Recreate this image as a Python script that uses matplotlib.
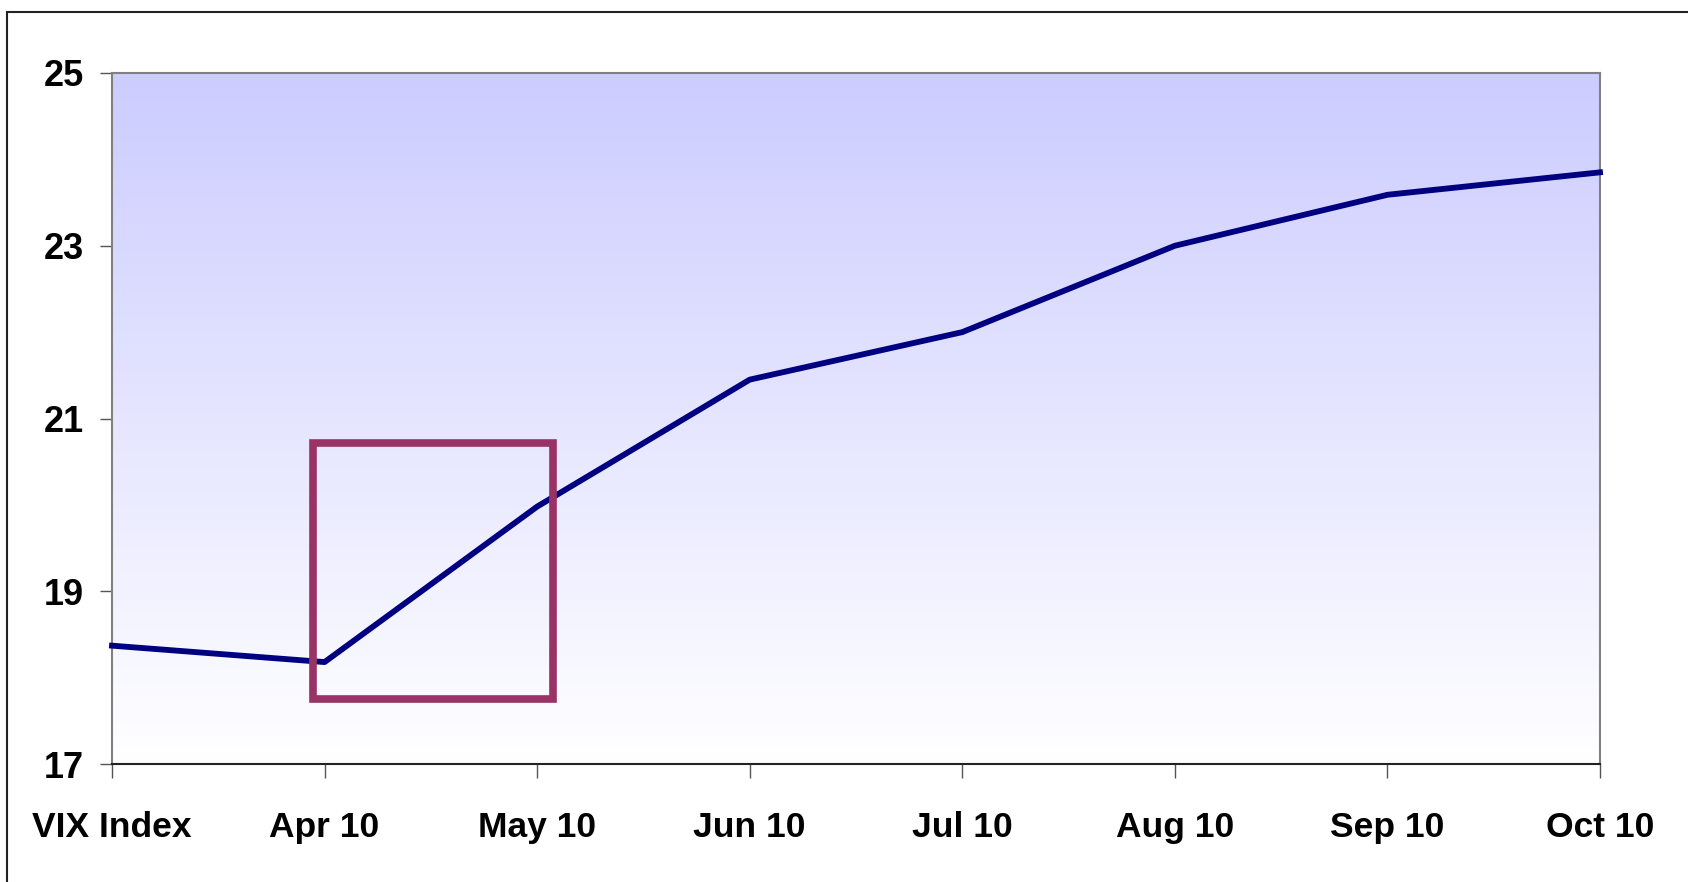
import numpy as np
import matplotlib.pyplot as plt
from matplotlib.patches import Rectangle
from matplotlib.colors import LinearSegmentedColormap

# VIX futures curve
labels = ['VIX Index', 'Apr 10', 'May 10', 'Jun 10', 'Jul 10', 'Aug 10', 'Sep 10', 'Oct 10']
values = [18.37, 18.18, 19.98, 21.45, 22.0, 23.0, 23.59, 23.85]
y_ticks = [17, 19, 21, 23, 25]

# highlight box around the front months (data coords)
box_x = [0.945, 2.074]
box_y = [17.755, 20.72]

plt.rcParams['font.family'] = ['Liberation Sans', 'DejaVu Sans']

W, H = 1688, 882
fig = plt.figure(figsize=(W / 100, H / 100), dpi=100)
ax = fig.add_axes([112 / W, 1 - 764 / H, (1600 - 112) / W, (764 - 73) / H])

# gradient background, lavender on top fading to white
cmap = LinearSegmentedColormap.from_list('bg', ['#ffffff', '#ccccff'])
grad = np.linspace(0, 1, 256).reshape(-1, 1)
ax.imshow(grad, aspect='auto', cmap=cmap, origin='lower',
          extent=[0, 1, 0, 1], transform=ax.transAxes, zorder=0)

x = np.arange(len(labels))
ax.plot(x, values, color='#000080', lw=4.2, zorder=3, clip_on=False)

ax.add_patch(Rectangle((box_x[0], box_y[0]), box_x[1] - box_x[0], box_y[1] - box_y[0],
                       fill=False, edgecolor='#993366', lw=5.5, zorder=4))

ax.set_xlim(0, len(labels) - 1)
ax.set_ylim(17, 25)
ax.set_xticks(x)
ax.set_xticklabels(labels)
ax.set_yticks(y_ticks)

for s in ['top', 'right', 'left']:
    ax.spines[s].set_color('#808080')
    ax.spines[s].set_linewidth(1.5)
ax.spines['bottom'].set_color('#222222')
ax.spines['bottom'].set_linewidth(1.5)

ax.tick_params(axis='x', length=10, width=1, color='#555555', pad=24,
               labelsize=25.5)
ax.tick_params(axis='y', length=8.5, width=1, color='#555555', pad=12,
               labelsize=26)
for t in ax.get_xticklabels() + ax.get_yticklabels():
    t.set_fontweight('bold')

# outer chart border (runs off right and bottom edges)
fig.patches.append(Rectangle((7 / W, -0.1), 1.2, 1 - 12 / H + 0.1,
                             transform=fig.transFigure, fill=False,
                             edgecolor='#222222', lw=1.5))

fig.savefig('out.png', dpi=100)
